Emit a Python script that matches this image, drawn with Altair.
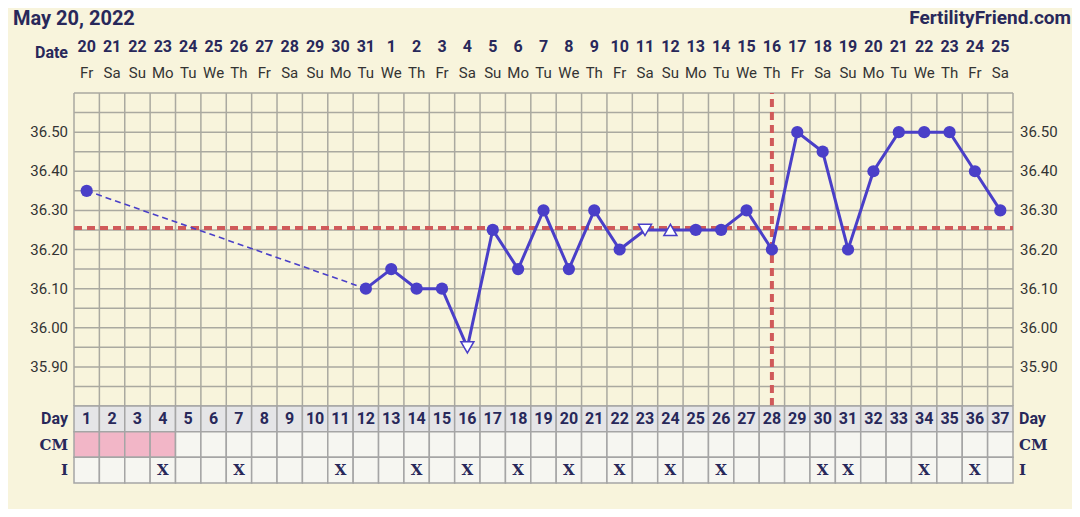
import altair as alt
import pandas as pd
import numpy as np

# ---------------- data ----------------
title_left = "May 20, 2022"
title_right = "FertilityFriend.com"
days = list(range(1, 38))
dates = [20, 21, 22, 23, 24, 25, 26, 27, 28, 29, 30, 31,
         1, 2, 3, 4, 5, 6, 7, 8, 9, 10, 11, 12, 13, 14, 15, 16,
         17, 18, 19, 20, 21, 22, 23, 24, 25]
weekdays = (["Fr", "Sa", "Su", "Mo", "Tu", "We", "Th"] * 6)[:37]
temps = [36.35, None, None, None, None, None, None, None, None, None, None,
         36.10, 36.15, 36.10, 36.10, 35.95, 36.25, 36.15, 36.30, 36.15, 36.30,
         36.20, 36.25, 36.25, 36.25, 36.25, 36.30, 36.20, 36.50, 36.45, 36.20,
         36.40, 36.50, 36.50, 36.50, 36.40, 36.30]
open_down_days = [16, 23]
open_up_days = [24]
cm_days = [1, 2, 3, 4]
i_days = [4, 7, 11, 14, 16, 18, 20, 22, 24, 26, 30, 31, 34, 36]
coverline = 36.255
ovulation_day = 28
temp_labels = [35.90, 36.00, 36.10, 36.20, 36.30, 36.40, 36.50]
temp_domain = [35.80, 36.60]
grid_step = 0.05
row_names = ["Day", "CM", "I"]

# ---------------- styles ----------------
BG = "#f8f4dc"
GRID = "#aaa9a0"
BLUE = "#4a3fc8"
RED = "#d05a5a"
NAVY = "#28285a"
PINK = "#f2b6c7"
CELL = "#f6f6f1"
DAYROW = "#e5e5e7"
SANS = "Roboto"
SERIF = "DejaVu Serif"

W, H = 1064, 501
xs = alt.Scale(domain=[days[0] - 0.5, days[-1] + 0.5], range=[66, 1005], nice=False, zero=False)
ys = alt.Scale(domain=temp_domain, range=[398, 85], nice=False, zero=False)
rs = alt.Scale(domain=[0, 3], range=[398, 475], nice=False, zero=False)

# ---------------- frames ----------------
known = [(d, t) for d, t in zip(days, temps) if t is not None]
pts = pd.DataFrame(known, columns=["day", "temp"])
pts["shape"] = ["triangle-down" if d in open_down_days else
                "triangle-up" if d in open_up_days else "circle" for d in pts["day"]]

solid_rows, dash_rows = [], []
run = 0
for (d0, t0), (d1, t1) in zip(known[:-1], known[1:]):
    if d1 - d0 == 1:
        if not solid_rows or solid_rows[-1]["day"] != d0:
            run += 1
            solid_rows.append({"seg": run, "day": d0, "temp": t0})
        solid_rows.append({"seg": run, "day": d1, "temp": t1})
    else:
        run += 1
        dash_rows += [{"seg": run, "day": d0, "temp": t0}, {"seg": run, "day": d1, "temp": t1}]
solid_df = pd.DataFrame(solid_rows)
dash_df = pd.DataFrame(dash_rows)

xlo, xhi = days[0] - 0.5, days[-1] + 0.5
hgrid = pd.DataFrame({"t": np.round(np.arange(temp_domain[0], temp_domain[1] + 1e-9, grid_step), 2)})
hgrid["x0"], hgrid["x1"] = xlo, xhi
vgrid = pd.DataFrame({"b": [d - 0.5 for d in days] + [days[-1] + 0.5]})
vgrid["y0"], vgrid["y1"] = temp_domain

cells = []
for r, name in enumerate(row_names):
    for d in days:
        if name == "Day":
            fill, txt = DAYROW, str(d)
        elif name == "CM":
            fill, txt = (PINK if d in cm_days else CELL), ""
        else:
            fill, txt = CELL, ("X" if d in i_days else "")
        cells.append({"row": name, "r0": r, "r1": r + 1, "rm": r + 0.5,
                      "x0": d - 0.5, "x1": d + 0.5, "day": d, "fill": fill, "txt": txt})
cells = pd.DataFrame(cells)
rowlab = pd.DataFrame({"label": row_names, "rm": [0.5, 1.5, 2.5]})
header = pd.DataFrame({"day": days, "date": [str(v) for v in dates], "wd": weekdays})
tl = pd.DataFrame({"t": temp_labels, "label": [f"{v:.2f}" for v in temp_labels]})

Xq = lambda f: alt.X(f, scale=xs, axis=None)
Yt = lambda f: alt.Y(f, scale=ys, axis=None)
Yr = lambda f: alt.Y(f, scale=rs, axis=None)

layers = []
# temperature grid
layers.append(alt.Chart(hgrid).mark_rule(color=GRID, strokeWidth=1.5).encode(
    x=Xq("x0:Q"), x2="x1:Q", y=Yt("t:Q")))
layers.append(alt.Chart(vgrid).mark_rule(color=GRID, strokeWidth=1.5).encode(
    x=Xq("b:Q"), y=Yt("y0:Q"), y2="y1:Q"))
# coverline & ovulation line
cov = pd.DataFrame({"t": [coverline], "x0": [xlo], "x1": [xhi]})
layers.append(alt.Chart(cov).mark_rule(color=RED, strokeWidth=4, strokeDash=[8, 5]).encode(
    x=Xq("x0:Q"), x2="x1:Q", y=Yt("t:Q")))
ov = pd.DataFrame({"day": [ovulation_day], "y0": [temp_domain[0]], "y1": [temp_domain[1]]})
layers.append(alt.Chart(ov).mark_rule(color=RED, strokeWidth=4, strokeDash=[8, 5]).encode(
    x=Xq("day:Q"), y=Yt("y0:Q"), y2="y1:Q"))
# temperature lines
layers.append(alt.Chart(dash_df).mark_line(color=BLUE, strokeWidth=1.6, strokeDash=[6, 4]).encode(
    x=Xq("day:Q"), y=Yt("temp:Q"), detail="seg:N"))
layers.append(alt.Chart(solid_df).mark_line(color=BLUE, strokeWidth=3).encode(
    x=Xq("day:Q"), y=Yt("temp:Q"), detail="seg:N"))
# points
layers.append(alt.Chart(pts[pts["shape"] == "circle"]).mark_point(
    filled=True, color=BLUE, size=150, opacity=1).encode(x=Xq("day:Q"), y=Yt("temp:Q")))
layers.append(alt.Chart(pts[pts["shape"] != "circle"]).mark_point(
    filled=True, fill="white", stroke=BLUE, strokeWidth=1.5, size=170, opacity=1).encode(
    x=Xq("day:Q"), y=Yt("temp:Q"), shape=alt.Shape("shape:N", scale=None)))
# temperature labels
layers.append(alt.Chart(tl).mark_text(align="right", baseline="middle", font=SANS, fontSize=15,
                                      color="#333333").encode(
    x=alt.value(60), y=Yt("t:Q"), text="label:N"))
layers.append(alt.Chart(tl).mark_text(align="left", baseline="middle", font=SANS, fontSize=15,
                                      color="#333333").encode(
    x=alt.value(1012), y=Yt("t:Q"), text="label:N"))
# table
layers.append(alt.Chart(cells).mark_rect(stroke="#a5a5a5", strokeWidth=1.5).encode(
    x=Xq("x0:Q"), x2="x1:Q", y=Yr("r0:Q"), y2="r1:Q", color=alt.Color("fill:N", scale=None)))
layers.append(alt.Chart(cells[cells["row"] == "Day"]).mark_text(
    font=SANS, fontSize=16, fontWeight="bold", color=NAVY, baseline="middle").encode(
    x=Xq("day:Q"), y=Yr("rm:Q"), text="txt:N"))
layers.append(alt.Chart(cells[cells["txt"] == "X"]).mark_text(
    font=SERIF, fontSize=15, fontWeight="bold", color=NAVY, baseline="middle").encode(
    x=Xq("day:Q"), y=Yr("rm:Q"), text="txt:N"))
for xv, al in [(60, "right"), (1011, "left")]:
    layers.append(alt.Chart(rowlab[rowlab["label"] == "Day"]).mark_text(
        font=SANS, fontSize=16, fontWeight="bold", color=NAVY, align=al, baseline="middle").encode(
        x=alt.value(xv), y=Yr("rm:Q"), text="label:N"))
    layers.append(alt.Chart(rowlab[rowlab["label"] != "Day"]).mark_text(
        font=SERIF, fontSize=15, fontWeight="bold", color=NAVY, align=al, baseline="middle").encode(
        x=alt.value(xv), y=Yr("rm:Q"), text="label:N"))
# header rows
layers.append(alt.Chart(header).mark_text(font=SANS, fontSize=16, fontWeight="bold", color=NAVY,
                                          baseline="middle").encode(
    x=Xq("day:Q"), y=alt.value(39), text="date:N"))
layers.append(alt.Chart(header).mark_text(font=SANS, fontSize=15, color="#333333",
                                          baseline="middle").encode(
    x=Xq("day:Q"), y=alt.value(65), text="wd:N"))
layers.append(alt.Chart(pd.DataFrame({"t": ["Date"]})).mark_text(
    font=SANS, fontSize=16, fontWeight="bold", color=NAVY, align="right", baseline="middle").encode(
    x=alt.value(60), y=alt.value(45), text="t:N"))
layers.append(alt.Chart(pd.DataFrame({"t": [title_left]})).mark_text(
    font=SANS, fontSize=20, fontWeight="bold", color=NAVY, align="left", baseline="top").encode(
    x=alt.value(5), y=alt.value(1), text="t:N"))
layers.append(alt.Chart(pd.DataFrame({"t": [title_right]})).mark_text(
    font=SANS, fontSize=19, fontWeight="bold", color=NAVY, align="right", baseline="top").encode(
    x=alt.value(1063), y=alt.value(1), text="t:N"))

chart = alt.layer(*layers).resolve_scale(y="independent").properties(
    width=W, height=H, padding=0, background=BG,
    autosize=alt.AutoSizeParams(type="none")
).configure_view(strokeWidth=0)

chart.save("out.html", embed_options={"renderer": "svg", "actions": False})
